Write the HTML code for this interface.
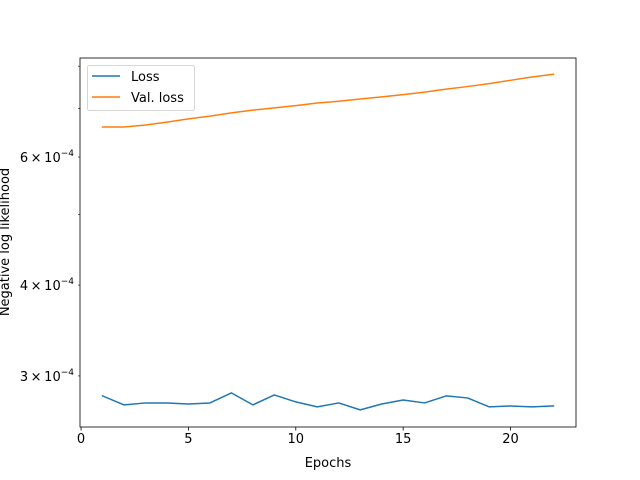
<!DOCTYPE html>
<html><head><meta charset="utf-8"><style>
body{margin:0;background:#fff}
svg{display:block;font-family:"DejaVu Sans","Liberation Sans",sans-serif}
</style></head><body>
<svg id="chart" width="640" height="480" viewBox="0 0 640 480">
<rect width="640" height="480" fill="#fff"/>
<g id="marks"></g>
<g id="axes"></g>
</svg>
<script>
const epochs=[1,2,3,4,5,6,7,8,9,10,11,12,13,14,15,16,17,18,19,20,21,22];
const lossValues=[2.816e-4,2.737e-4,2.754e-4,2.754e-4,2.745e-4,2.754e-4,2.843e-4,2.737e-4,2.825e-4,2.763e-4,2.720e-4,2.754e-4,2.694e-4,2.745e-4,2.780e-4,2.754e-4,2.816e-4,2.798e-4,2.720e-4,2.728e-4,2.720e-4,2.728e-4];
const valLossValues=[6.598e-4,6.598e-4,6.64e-4,6.70e-4,6.77e-4,6.83e-4,6.90e-4,6.96e-4,7.01e-4,7.06e-4,7.12e-4,7.16e-4,7.21e-4,7.26e-4,7.31e-4,7.37e-4,7.44e-4,7.50e-4,7.57e-4,7.65e-4,7.73e-4,7.80e-4];
const xTicks=[0,5,10,15,20];
const yMinorTicks=[3e-4,4e-4,5e-4,6e-4,7e-4,8e-4];
const yLabelMant=[3,4,6];

const L=80,R=576,T=58,B=427;
const xMin=-0.05,xMax=23.05;
const yMinL=Math.log10(2.552e-4),yMaxL=Math.log10(8.21e-4);
const xs=v=>L+(v-xMin)/(xMax-xMin)*(R-L);
const ys=v=>B-(Math.log10(v)-yMinL)/(yMaxL-yMinL)*(B-T);
const NS="http://www.w3.org/2000/svg";
function mk(tag,attrs,parent){const e=document.createElementNS(NS,tag);for(const k in attrs)e.setAttribute(k,attrs[k]);parent.appendChild(e);return e;}
const marks=document.getElementById('marks'),axes=document.getElementById('axes');

function line(vals,color,name){
  const d=vals.map((v,i)=>(i?'L':'M')+xs(epochs[i]).toFixed(2)+' '+ys(v).toFixed(2)).join(' ');
  const p=mk('path',{d:d,fill:'none',stroke:color,'stroke-width':1.5,'stroke-linejoin':'round','stroke-linecap':'square'},marks);
  
  
}
line(lossValues,'#1f77b4','loss-line');
line(valLossValues,'#ff7f0e','val-loss-line');

const frame=mk('rect',{x:L,y:T,width:R-L,height:B-T,fill:'none',stroke:'#000','stroke-width':0.8},axes);



xTicks.forEach(t=>{
  const x=xs(t);
  const tk=mk('line',{x1:x,x2:x,y1:B,y2:B+3.5,stroke:'#000','stroke-width':0.8},axes);
  
  
  const tx=mk('text',{x:x,y:B+16,'text-anchor':'middle','font-size':13},axes);
  tx.textContent=t;
  
  
});
yMinorTicks.forEach(t=>{
  const y=ys(t);
  const tk=mk('line',{x1:L-2,x2:L,y1:y,y2:y,stroke:'#000','stroke-width':0.6},axes);
  
  
});
yLabelMant.forEach(m=>{
  const y=ys(m*1e-4);
  const tx=mk('text',{x:L-6,y:y+5,'text-anchor':'end','font-size':13},axes);
  tx.innerHTML=m+'\u2009\u00d7\u200910<tspan font-size="9" dy="-6">\u22124</tspan>';
  
  
});
const xl=mk('text',{x:(L+R)/2,y:467,'text-anchor':'middle','font-size':13},axes);
xl.textContent='Epochs';


const yl=mk('text',{x:0,y:0,'text-anchor':'middle','font-size':13,transform:'translate(9,242) rotate(-90)'},axes);
yl.textContent='Negative log likelihood';



const lg=mk('g',{},axes);


mk('rect',{x:87.5,y:65.5,width:107,height:45,rx:2,fill:'#fff','fill-opacity':0.8,stroke:'#ccc','stroke-width':0.8},lg);
[['Loss','#1f77b4',76],['Val. loss','#ff7f0e',97]].forEach(([lab,c,y])=>{
  const g=mk('g',{},lg);
  
  
  mk('line',{x1:92,x2:120,y1:y,y2:y,stroke:c,'stroke-width':1.5},g);
  const t=mk('text',{x:131,y:y+5,'font-size':13},g);
  t.textContent=lab;
});
</script>
</body></html>
